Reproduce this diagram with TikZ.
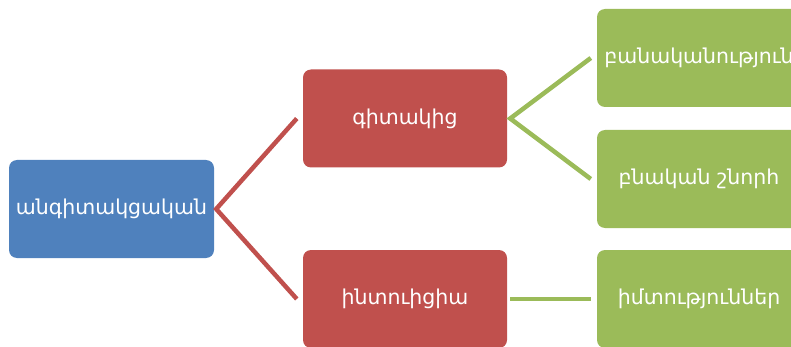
\documentclass[tikz,border=0pt]{standalone}
\usepackage{fontspec}
\newfontfamily\armfont{DejaVu Sans}
\definecolor{cblue}{HTML}{4F81BD}
\definecolor{cred}{HTML}{C0504D}
\definecolor{cgreen}{HTML}{9BBB59}
\tikzset{
  box/.style={rounded corners=8pt, minimum width=204pt, minimum height=98pt, inner sep=0pt,
    text=white, font=\armfont\fontsize{20.5}{24}\selectfont},
  rootbox/.style={box, fill=cblue, minimum width=205pt},
  redbox/.style={box, fill=cred},
  greenbox/.style={box, fill=cgreen},
  redline/.style={draw=cred, line width=4.5pt},
  greenline/.style={draw=cgreen, line width=4.5pt}
}
\begin{document}
\begin{tikzpicture}[x=1pt, y=-1pt]
\useasboundingbox (0,0) rectangle (791,347);
\clip (0,0) rectangle (791,347);
\node[rootbox] (root) at (111.5,209) {անգիտակցական};
\node[redbox] (r1) at (405,118.5) {գիտակից};
\node[redbox] (r2) at (405,299) {ինտուիցիա};
\node[greenbox] (g1) at (699,58) {բանականություն};
\node[greenbox] (g2) at (699,179) {բնական շնորհ};
\node[greenbox] (g3) at (699,299) {իմտություններ};
\coordinate (rootout) at ([xshift=2pt]root.east);
\coordinate (r1in) at ([xshift=-6pt]r1.west);
\coordinate (r2in) at ([xshift=-6pt]r2.west);
\coordinate (r1out) at ([xshift=3pt]r1.east);
\coordinate (r2out) at ([xshift=3pt]r2.east);
\coordinate (g1in) at ([xshift=-6pt]g1.west);
\coordinate (g2in) at ([xshift=-6pt]g2.west);
\coordinate (g3in) at ([xshift=-6pt]g3.west);
\draw[redline] (r1in) -- (rootout) -- (r2in);
\draw[greenline] (g1in) -- (r1out) -- (g2in);
\draw[greenline] (r2out) -- (g3in);
\end{tikzpicture}
\end{document}
